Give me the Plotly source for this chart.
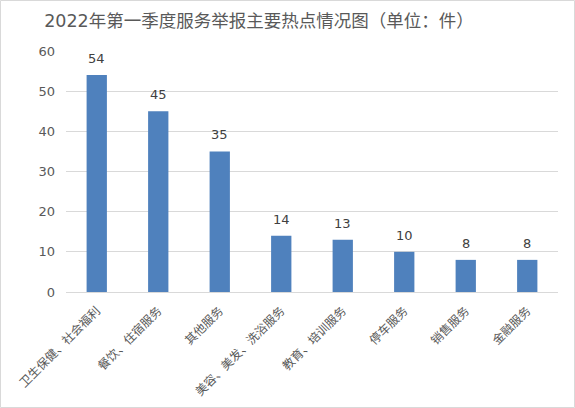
import plotly.graph_objects as go

categories = ['卫生保健、社会福利', '餐饮、住宿服务', '其他服务', '美容、美发、洗浴服务',
              '教育、培训服务', '停车服务', '销售服务', '金融服务']
counts = [54, 45, 35, 14, 13, 10, 8, 8]
y_ticks = [0, 10, 20, 30, 40, 50, 60]

fig = go.Figure(go.Bar(
    x=categories,
    y=counts,
    marker=dict(color='#4F81BD', line=dict(width=0)),
    width=0.33,
    hoverinfo='x+y',
))

# value labels sit a bit higher above the bars than plotly's "outside" text
for c, v in zip(categories, counts):
    fig.add_annotation(x=c, y=v, text=str(v), showarrow=False,
                       yanchor='bottom', yshift=7,
                       font=dict(family='DejaVu Sans', size=13, color='#404040'))

fig.update_layout(
    width=575,
    height=408,
    margin=dict(l=66, r=17, t=51, b=116),
    paper_bgcolor='white',
    plot_bgcolor='white',
    showlegend=False,
    title=dict(
        text='2022年第一季度服务举报主要热点情况图（单位：件）',
        xref='paper', x=(259 - 66) / 492, xanchor='center',
        y=0.95, yanchor='middle',
        font=dict(family='DejaVu Sans, Noto Sans CJK SC', size=17.5, color='#595959'),
    ),
    font=dict(family='Noto Sans CJK SC', color='#595959'),
)

fig.update_xaxes(
    tickangle=-45,
    tickfont=dict(family='Noto Sans CJK SC', size=12, color='#595959'),
    ticklabelstandoff=6,
    showline=True, linecolor='#D9D9D9', linewidth=1,
    ticks='', showgrid=False, automargin=False,
)
fig.update_yaxes(
    range=[0, 60],
    tickvals=y_ticks,
    tickfont=dict(family='DejaVu Sans', size=13, color='#595959'),
    ticklabelstandoff=10,
    showgrid=True, gridcolor='#D9D9D9', gridwidth=1,
    zeroline=False, showline=False, ticks='', ticklen=0,
    automargin=False,
)

# light border around the whole chart
fig.add_shape(type='rect', xref='paper', yref='paper',
              x0=-65.5/492, x1=1+16.5/492, y0=-115.5/241, y1=1+50.5/241,
              line=dict(color='#D9D9D9', width=1))

# drop the default body margin so the figure fills the window exactly
fig.write_html('out.html', config={'displayModeBar': False},
               post_script="document.body.style.margin='0';")
